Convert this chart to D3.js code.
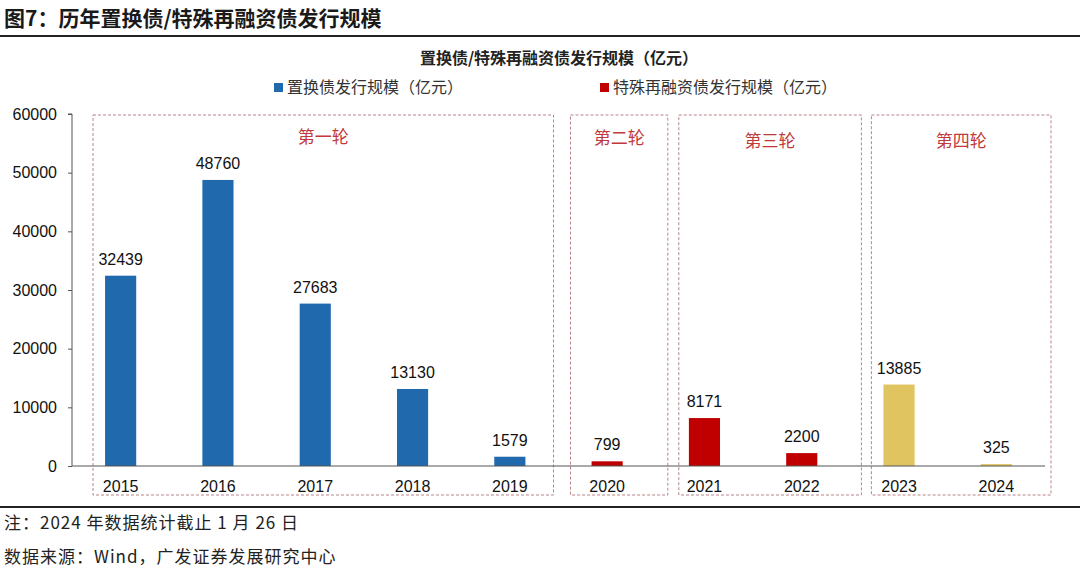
<!DOCTYPE html>
<html>
<head>
<meta charset="utf-8">
<script src="https://cdn.jsdelivr.net/npm/d3@7"></script>
<style>
  body { margin: 0; background: #fff; }
  svg { display: block; }
</style>
</head>
<body>
<div id="chart"></div>
<script>
const years = ['2015', '2016', '2017', '2018', '2019', '2020', '2021', '2022', '2023', '2024'];
const values = [32439, 48760, 27683, 13130, 1579, 799, 8171, 2200, 13885, 325];
// 0 = 置换债, 1 = 特殊再融资债 (round 2/3), 2 = round 4
const colorGroup = [0, 0, 0, 0, 0, 1, 1, 1, 2, 2];
const yTicks = [0, 10000, 20000, 30000, 40000, 50000, 60000];
const rounds = [
  { name: '第一轮', from: '2015', to: '2019' },
  { name: '第二轮', from: '2020', to: '2020' },
  { name: '第三轮', from: '2021', to: '2022' },
  { name: '第四轮', from: '2023', to: '2024' }
];
const legendItems = ['置换债发行规模（亿元）', '特殊再融资债发行规模（亿元）'];

const W = 1080, H = 571;
const M = { top: 114, right: 35, bottom: 105, left: 72 };
const palette = ['#1f69ac', '#c00000', '#dfc460'];
const cjk = '"Noto Sans CJK SC", "Noto Sans", sans-serif';
const num = '"Liberation Sans", Arial, sans-serif';

const svg = d3.select('#chart').append('svg').attr('width', W).attr('height', H);

// header
svg.append('text')
  .attr('x', 4).attr('y', 26)
  .attr('font-family', cjk).attr('font-size', 21).attr('font-weight', 'bold')
  .attr('fill', '#1a1a1a')
  .text('图7：历年置换债/特殊再融资债发行规模');
svg.append('line').attr('x1', 0).attr('x2', W).attr('y1', 36).attr('y2', 36)
  .attr('stroke', '#222').attr('stroke-width', 2);
svg.append('line').attr('x1', 0).attr('x2', W).attr('y1', 507).attr('y2', 507)
  .attr('stroke', '#222').attr('stroke-width', 2);

svg.append('text')
  .attr('x', 559).attr('y', 64).attr('text-anchor', 'middle')
  .attr('font-family', cjk).attr('font-size', 16).attr('font-weight', 'bold')
  .attr('fill', '#222')
  .text('置换债/特殊再融资债发行规模（亿元）');

// legend
const legX = [274, 600];
legendItems.forEach((t, i) => {
  svg.append('rect').attr('x', legX[i]).attr('y', 83).attr('width', 9).attr('height', 9)
    .attr('fill', palette[i]);
  svg.append('text').attr('x', legX[i] + 13).attr('y', 93)
    .attr('font-family', cjk).attr('font-size', 16).attr('fill', '#333')
    .text(t);
});

const innerW = W - M.left - M.right;
const innerH = H - M.top - M.bottom;
const x = d3.scaleBand().domain(years).range([M.left, M.left + innerW]).paddingInner(0).paddingOuter(0);
const y = d3.scaleLinear().domain([0, 60000]).range([M.top + innerH, M.top]);
const bw = x.bandwidth() * 0.32;

// dashed round boxes
const boxPad = [[21, -5], [12, 12], [23, 11], [21, 6]];
rounds.forEach((r, i) => {
  const x0 = x(r.from) + boxPad[i][0];
  const x1 = x(r.to) + x.bandwidth() + boxPad[i][1];
  svg.append('rect')
    .attr('x', x0).attr('y', 115).attr('width', x1 - x0).attr('height', 380)
    .attr('fill', 'none').attr('stroke', '#b88388').attr('stroke-width', 1)
    .attr('stroke-dasharray', '3,2');
  svg.append('text')
    .attr('x', (x0 + x1) / 2).attr('y', 143 + (i > 1 ? 4 : i)).attr('text-anchor', 'middle')
    .attr('font-family', cjk).attr('font-size', 17).attr('fill', '#c0393b')
    .text(r.name);
});

// y axis
const yAxis = svg.append('g').attr('transform', `translate(${M.left},0)`)
  .call(d3.axisLeft(y).tickValues(yTicks).tickSize(4).tickPadding(11).tickFormat(d3.format('d')));
yAxis.selectAll('path,line').attr('stroke', '#555');
yAxis.selectAll('text').attr('font-family', num).attr('font-size', 16).attr('fill', '#111');
yAxis.select('.domain').attr('d', `M-4,${M.top}H0V${M.top + innerH}`);

// bars
svg.selectAll('rect.bar')
  .data(years)
  .join('rect')
  .attr('class', 'bar')
  .attr('x', (d) => x(d) + (x.bandwidth() - bw) / 2)
  .attr('width', bw)
  .attr('y', (d, i) => y(values[i]))
  .attr('height', (d, i) => y(0) - y(values[i]))
  .attr('fill', (d, i) => palette[colorGroup[i]]);

// baseline
svg.append('line').attr('x1', M.left).attr('x2', M.left + innerW)
  .attr('y1', y(0)).attr('y2', y(0)).attr('stroke', '#555').attr('stroke-width', 1);

// value labels
svg.selectAll('text.val')
  .data(years)
  .join('text')
  .attr('class', 'val')
  .attr('x', (d) => x(d) + x.bandwidth() / 2)
  .attr('y', (d, i) => y(values[i]) - 11)
  .attr('text-anchor', 'middle')
  .attr('font-family', num).attr('font-size', 16).attr('fill', '#111')
  .text((d, i) => values[i]);

// x labels
svg.selectAll('text.xl')
  .data(years)
  .join('text')
  .attr('class', 'xl')
  .attr('x', (d) => x(d) + x.bandwidth() / 2)
  .attr('y', 492)
  .attr('text-anchor', 'middle')
  .attr('font-family', num).attr('font-size', 16).attr('fill', '#111')
  .text((d) => d);

// footnotes
svg.append('text').attr('x', 4).attr('y', 529)
  .attr('font-family', cjk).attr('font-size', 17).attr('letter-spacing', 1).attr('fill', '#222')
  .text('注：2024 年数据统计截止 1 月 26 日');
svg.append('text').attr('x', 4).attr('y', 563)
  .attr('font-family', cjk).attr('font-size', 17).attr('letter-spacing', 1).attr('fill', '#222')
  .text('数据来源：Wind，广发证券发展研究中心');
</script>
</body>
</html>
